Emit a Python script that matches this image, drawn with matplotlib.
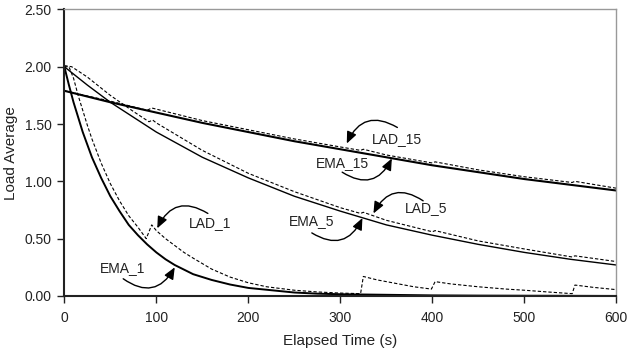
import matplotlib
matplotlib.use("Agg")
import matplotlib.pyplot as plt

plt.rcParams['font.family'] = ['Liberation Sans', 'DejaVu Sans']

# values (time in s, load average)
ema1_t = [0, 5, 10, 15, 20, 25, 30, 40, 50, 60, 70, 80, 90, 100, 110, 120, 140, 160,
          180, 200, 225, 250, 275, 300, 350, 400, 450, 500, 550, 600]
ema1_v = [2.00, 1.84, 1.69, 1.56, 1.43, 1.32, 1.21, 1.03, 0.87, 0.74, 0.62, 0.53, 0.45,
          0.38, 0.32, 0.27, 0.19, 0.14, 0.10, 0.07, 0.05, 0.03, 0.02, 0.015, 0.01, 0.005,
          0.003, 0.002, 0.001, 0.0]

lad1_t = [0, 5, 10, 15, 20, 25, 30, 40, 50, 60, 70, 80, 89, 95, 100, 110, 120, 130, 140,
          160, 180, 200, 220, 250, 275, 300, 322, 325, 340, 360, 380, 399, 403, 420, 450,
          480, 500, 525, 552, 555, 575, 600]
lad1_v = [2.00, 2.00, 1.90, 1.75, 1.62, 1.49, 1.37, 1.16, 0.98, 0.83, 0.70, 0.60, 0.50,
          0.62, 0.57, 0.50, 0.44, 0.38, 0.33, 0.235, 0.165, 0.115, 0.08, 0.05, 0.035, 0.025,
          0.02, 0.17, 0.14, 0.11, 0.08, 0.06, 0.125, 0.105, 0.08, 0.06, 0.05, 0.035, 0.02,
          0.095, 0.075, 0.055]

ema5_t = [0, 25, 50, 75, 100, 150, 200, 250, 300, 350, 400, 450, 500, 550, 600]
ema5_v = [2.00, 1.84, 1.69, 1.56, 1.43, 1.21, 1.03, 0.87, 0.74, 0.62, 0.53, 0.45, 0.38,
          0.32, 0.27]

lad5_t = [0, 8, 25, 50, 75, 92, 96, 100, 150, 200, 250, 300, 322, 325, 350, 400, 403,
          450, 500, 552, 555, 600]
lad5_v = [2.01, 2.00, 1.91, 1.75, 1.61, 1.52, 1.535, 1.51, 1.27, 1.07, 0.91, 0.77, 0.72,
          0.73, 0.66, 0.56, 0.57, 0.48, 0.41, 0.34, 0.35, 0.30]

ema15_t = [0, 50, 100, 150, 200, 250, 300, 350, 400, 450, 500, 550, 600]
ema15_v = [1.79, 1.69, 1.60, 1.51, 1.43, 1.35, 1.28, 1.21, 1.14, 1.08, 1.02, 0.97, 0.92]

lad15_t = [0, 50, 90, 95, 150, 200, 250, 300, 322, 325, 350, 400, 403, 450, 500, 552,
           555, 600]
lad15_v = [1.79, 1.70, 1.62, 1.64, 1.53, 1.45, 1.37, 1.30, 1.27, 1.28, 1.23, 1.16, 1.17,
           1.10, 1.04, 0.99, 1.00, 0.94]

fig = plt.figure(figsize=(6.27, 3.49), dpi=100)
ax = fig.add_axes([0.1026, 0.152, 0.8804, 0.821])

dash = (0, (3, 1.8))
ax.plot(ema1_t, ema1_v, color='black', lw=1.4)
ax.plot(lad1_t, lad1_v, color='black', lw=0.8, linestyle=dash)
ax.plot(ema5_t, ema5_v, color='black', lw=1.0)
ax.plot(lad5_t, lad5_v, color='black', lw=0.8, linestyle=dash)
ax.plot(ema15_t, ema15_v, color='black', lw=1.5)
ax.plot(lad15_t, lad15_v, color='black', lw=0.8, linestyle=dash)

ax.set_xlim(0, 600)
ax.set_ylim(0, 2.5)
ax.set_xticks(range(0, 601, 100))
ax.set_yticks([0, 0.5, 1.0, 1.5, 2.0, 2.5])
ax.set_yticklabels(['%.2f' % v for v in [0, 0.5, 1.0, 1.5, 2.0, 2.5]])
ax.tick_params(labelsize=10, length=5, width=1, colors='#222222', direction='out')
ax.tick_params(axis='x', pad=6)
ax.tick_params(axis='y', pad=4)
ax.set_xlabel('Elapsed Time (s)', fontsize=11, color='#222222', labelpad=6)
ax.set_ylabel('Load Average', fontsize=11, color='#222222', labelpad=5)

for s in ['left', 'bottom']:
    ax.spines[s].set_linewidth(1.5)
    ax.spines[s].set_color('#222222')
for s in ['top', 'right']:
    ax.spines[s].set_linewidth(1.0)
    ax.spines[s].set_color('#999999')

# labels with curved arrows: (text, text pos, arrow start, arrow tip)
notes = [
    ('LAD_15', (361, 1.37), (362, 1.47), (307, 1.33)),
    ('EMA_15', (302, 1.16), (302, 1.08), (356, 1.20)),
    ('LAD_5', (393, 0.77), (390, 0.83), (336, 0.72)),
    ('EMA_5', (269, 0.65), (269, 0.55), (324, 0.68)),
    ('LAD_1', (158, 0.64), (156, 0.72), (101, 0.59)),
    ('EMA_1', (63, 0.24), (64, 0.15), (120, 0.25)),
]
for label, tpos, start, tip in notes:
    ax.text(tpos[0], tpos[1], label, fontsize=10, ha='center', va='center', color='#222222')
    ax.annotate('', xy=tip, xytext=start,
                arrowprops=dict(arrowstyle='-|>,head_length=0.7,head_width=0.3',
                                connectionstyle='arc3,rad=0.55', color='black', lw=1.0,
                                shrinkA=0, shrinkB=0, mutation_scale=10))

fig.savefig('out.png', dpi=100)
